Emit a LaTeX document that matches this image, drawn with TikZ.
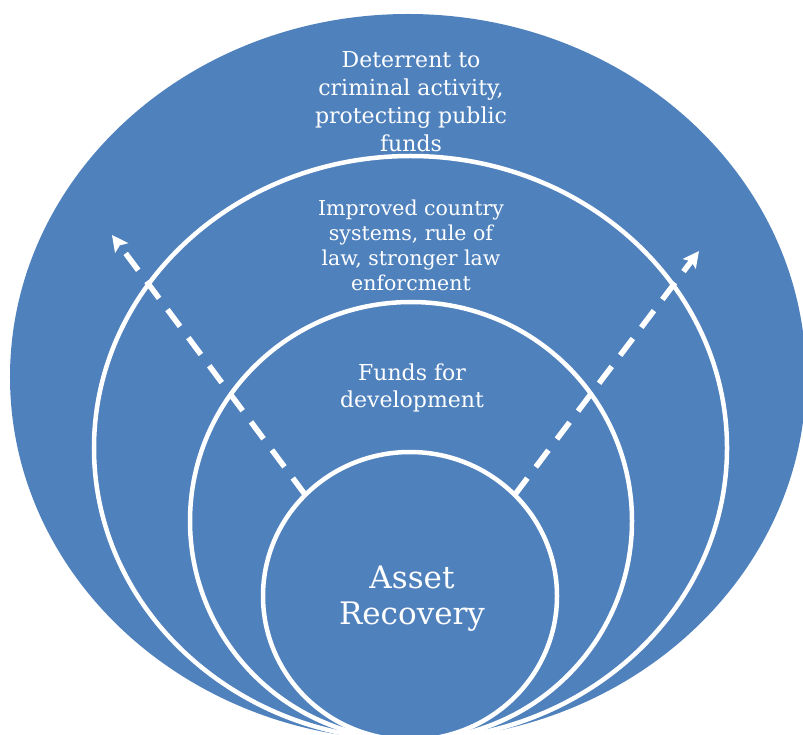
\documentclass[tikz,border=0pt]{standalone}
\usepackage{fontspec}
\setmainfont{DejaVu Serif}
\usetikzlibrary{shapes.geometric,arrows.meta}
\definecolor{ringblue}{RGB}{79,129,189}
\begin{document}
\begin{tikzpicture}[x=1bp,y=-1bp,
  ring/.style={ellipse, fill=ringblue, draw=white, line width=4.5bp, inner sep=0pt, outer sep=0pt},
  txt/.style={text=white, align=center, inner sep=0pt},
  dasharrow/.style={draw=white, line width=5.5bp, dash pattern=on 21bp off 14bp, -{Stealth[length=16bp,width=16bp,inset=3bp]}}]
\useasboundingbox (0,0) rectangle (803,735);
\clip (0,0) rectangle (803,735);
\node[ring, draw=none, minimum width=796bp, minimum height=726bp] (outer) at (408,377) {};
\node[ring, minimum width=633bp, minimum height=584bp] (second) at (410.5,448) {};
\node[ring, minimum width=442bp, minimum height=438bp] (third) at (411,521) {};
\node[ring, minimum width=294bp, minimum height=288bp] (ar) at (410,596) {};
\node[txt, font=\fontsize{22bp}{28bp}\selectfont] (t1) at (411,102) {Deterrent to\\criminal activity,\\protecting public\\funds};
\node[txt, font=\fontsize{20.5bp}{25bp}\selectfont] (t2) at (411,245) {Improved country\\systems, rule of\\law, stronger law\\enforcment};
\node[txt, font=\fontsize{22bp}{27bp}\selectfont] (t3) at (412,388) {Funds for\\development};
\node[txt, font=\fontsize{31bp}{36bp}\selectfont] (t4) at (412,599) {Asset\\Recovery};
\coordinate (tipL) at (112,235);
\coordinate (tipR) at (699,251);
\draw[dasharrow] (ar.136) -- (tipL);
\draw[dasharrow] (ar.44) -- (tipR);
\end{tikzpicture}
\end{document}
